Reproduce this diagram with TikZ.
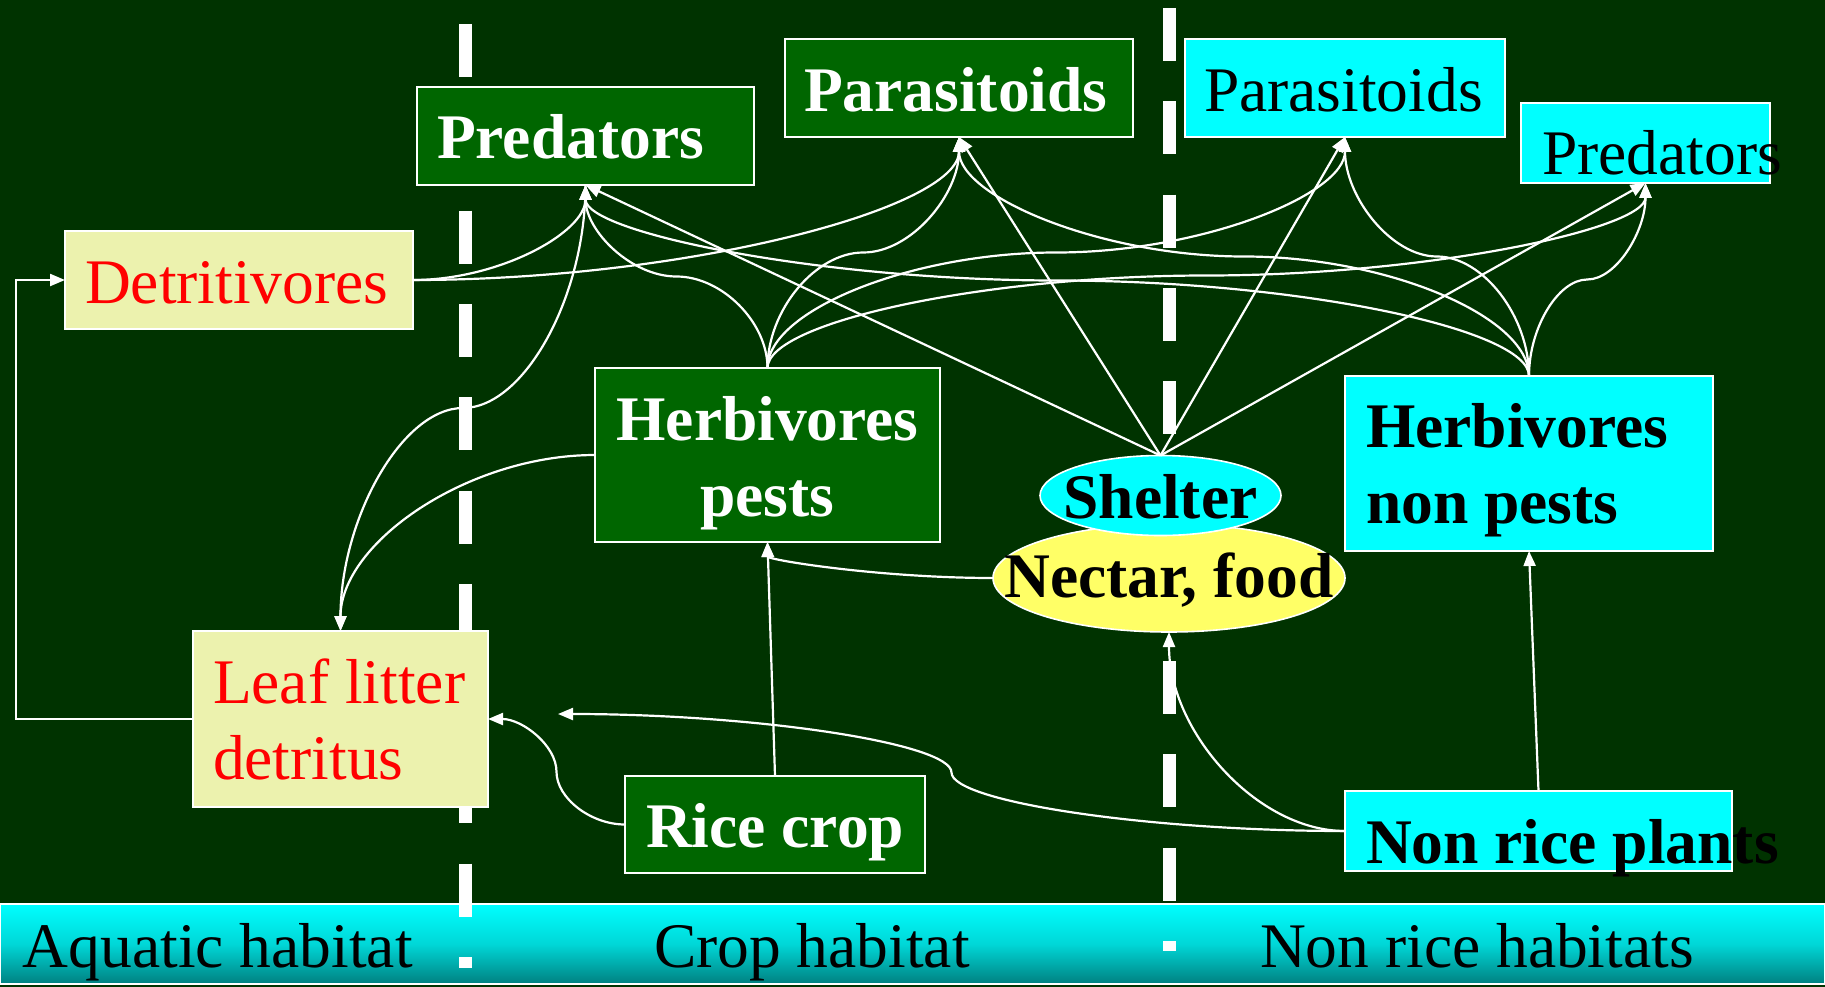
\documentclass[tikz,border=0pt]{standalone}
\usepackage{fontspec}
\setmainfont{Liberation Serif}
\usetikzlibrary{arrows.meta,calc,shapes.geometric}
\definecolor{bgc}{RGB}{0,51,0}
\definecolor{boxgreen}{RGB}{0,102,0}
\definecolor{pale}{RGB}{236,242,174}
\definecolor{nectar}{RGB}{255,255,102}
\definecolor{cyanc}{RGB}{0,255,255}
\definecolor{bandmid}{RGB}{0,215,215}
\definecolor{bandbot}{RGB}{0,128,128}
\newcommand\natsp{\spaceskip=0pt\xspaceskip=0pt\relax}
\begin{document}
\begin{tikzpicture}[x=1pt,y=-1pt,
  every node/.style={inner sep=0pt, outer sep=0pt},
  fnt/.style={font=\fontsize{63.5pt}{76pt}\selectfont},
  bfnt/.style={font=\fontsize{63.5pt}{76pt}\selectfont\bfseries},
  bx/.style={draw=white, line width=1.6pt, rectangle, inner ysep=0pt, text height=70pt},
  boxsz/.style n args={5}{minimum width=#1pt, minimum height=#2pt, inner xsep=#3pt, text width=#4pt, text depth=#5pt},
  gbox/.style={bx, bfnt, fill=boxgreen, text=white},
  cbox/.style={bx, fnt, fill=cyanc, text=black},
  cbbox/.style={bx, bfnt, fill=cyanc, text=black},
  ybox/.style={bx, fnt, fill=pale, text=red},
  oval/.style={ellipse, draw=white, line width=1.6pt, bfnt, text=black},
  divider/.style={draw=white, line width=13pt, dash pattern=on 53pt off 40.3pt},
  conn/.style={draw=white, line width=2.2pt, -{Triangle[length=15pt,width=12pt]}},
  bandtxt/.style={fnt, text=black, anchor=base west}
]
\useasboundingbox (0,0) rectangle (1825,987);
\fill[bgc] (0,0) rectangle (1825,987);

% bottom band
\node[draw=white, line width=1.5pt, top color=cyanc, bottom color=bandbot, middle color=bandmid,
      minimum width=1825pt, minimum height=80pt, anchor=north west] (band) at (0,904) {};

% habitat dividers
\draw[divider] (465,24) -- (465,968);
\draw[divider] (1169,8) -- (1169,951);

% band texts
\node[bandtxt] (aq) at (23,967) {Aquatic habitat};
\node[bandtxt] (cr) at (654,967) {Crop habitat};
\node[bandtxt] (nr) at (1260,967) {Non rice habitats};

% boxes
\node[gbox, align=left, boxsz={337}{98}{20}{297}{24}] (pg) at (585.5,136) {Predators};
\node[gbox, align=left, boxsz={348}{98}{19}{310}{22}] (qg) at (959,88) {Parasitoids};
\node[cbox, align=left, boxsz={320}{98}{19}{282}{22}] (qc) at (1345,88) {Parasitoids};
\node[cbox, align=left, boxsz={249}{80}{21}{207}{6}] (pc) at (1645.5,143) {\mbox{Predators}};
\node[ybox, align=left, boxsz={348}{98}{20}{308}{24}] (dt) at (239,280) {Detritivores};
\node[gbox, align=center, boxsz={345}{174}{10}{325}{100}] (hp) at (767.5,455) {Herbivores\\pests};
\node[cbbox, align=left, boxsz={368}{175}{21}{326}{103}] (hn) at (1529,463.5) {\natsp Herbivores\\\mbox{non pests}};
\node[ybox, align=left, boxsz={295}{176}{20}{255}{102}] (ll) at (340.5,719) {\natsp\mbox{Leaf litter}\\detritus};
\node[gbox, align=left, boxsz={300}{97}{21}{258}{25}] (rc) at (775,824.5) {\natsp\mbox{Rice crop}};
\node[cbbox, align=left, boxsz={387}{80}{21}{345}{6}] (np) at (1538.5,831) {\natsp\mbox{Non rice plants}};

% ellipses
\node[oval, fill=nectar, minimum width=352pt, minimum height=108pt] (nf) at (1169,578)
  {\makebox[0pt]{\raisebox{-19pt}[0pt][0pt]{Nectar, food}}};
\node[oval, fill=cyanc, minimum width=241pt, minimum height=80pt] (sh) at (1160.5,495.5)
  {\makebox[0pt]{\raisebox{-23pt}[0pt][0pt]{Shelter}}};

\coordinate (fe) at (558,714);

% connectors from Detritivores
\draw[conn] (dt.east) .. controls +(86.25,0) and +(0,47.5) .. (pg.south);
\draw[conn] (dt.east) .. controls +(273,0) and +(0,71.5) .. (qg.south);

% to leaf litter
\draw[conn] (pg.south) .. controls +(0,111.5) and +(61.25,0) .. ($(pg.south)!0.5!(ll.north)$)
  .. controls +(-61.25,0) and +(0,-111.5) .. (ll.north);
\draw[conn] (hp.west) .. controls +(-127.25,0) and +(0,-88) .. (ll.north);
\draw[conn] (rc.west) .. controls +(-34.25,0) and +(0,26.375) .. ($(rc.west)!0.5!(ll.east)$)
  .. controls +(0,-26.375) and +(34.25,0) .. (ll.east);
\draw[conn] (ll.west) -- ++(-177,0) |- (dt.west);

% non rice plants
\draw[conn] (np.west) .. controls +(-196.75,0) and +(0,29.25) .. ($(np.west)!0.5!(fe)$)
  .. controls +(0,-29.25) and +(196.75,0) .. (fe);
\draw[conn] (np.west) .. controls +(-88,0) and +(0,99.5) .. (nf.south);
\draw[conn] (np.north) -- (hn.south);

% rice crop and nectar to herbivores pests
\draw[conn] (rc.north) -- (hp.south);
\draw[conn] (nf.west) .. controls +(-112.75,0) and +(0,18) .. (hp.south);

% shelter to natural enemies
\draw[conn] (sh.north) -- (pg.south);
\draw[conn] (sh.north) -- (qg.south);
\draw[conn] (sh.north) -- (qc.south);
\draw[conn] (sh.north) -- (pc.south);

% herbivores pests to natural enemies
\draw[conn] (hp.north) .. controls +(0,-45.75) and +(45.5,0) .. ($(hp.north)!0.5!(pg.south)$)
  .. controls +(-45.5,0) and +(0,45.75) .. (pg.south);
\draw[conn] (hp.north) .. controls +(0,-57.75) and +(-47.875,0) .. ($(hp.north)!0.5!(qg.south)$)
  .. controls +(47.875,0) and +(0,57.75) .. (qg.south);
\draw[conn] (hp.north) .. controls +(0,-57.75) and +(-144.4,0) .. ($(hp.north)!0.5!(qc.south)$)
  .. controls +(144.4,0) and +(0,57.75) .. (qc.south);
\draw[conn] (hp.north) .. controls +(0,-46.25) and +(-219.5,0) .. ($(hp.north)!0.5!(pc.south)$)
  .. controls +(219.5,0) and +(0,46.25) .. (pc.south);

% herbivores non pests to natural enemies
\draw[conn] (hn.north) .. controls +(0,-47.75) and +(235.9,0) .. ($(hn.north)!0.5!(pg.south)$)
  .. controls +(-235.9,0) and +(0,47.75) .. (pg.south);
\draw[conn] (hn.north) .. controls +(0,-59.75) and +(142.5,0) .. ($(hn.north)!0.5!(qg.south)$)
  .. controls +(-142.5,0) and +(0,59.75) .. (qg.south);
\draw[conn] (hn.north) .. controls +(0,-59.75) and +(46,0) .. ($(hn.north)!0.5!(qc.south)$)
  .. controls +(-46,0) and +(0,59.75) .. (qc.south);
\draw[conn] (hn.north) .. controls +(0,-48.25) and +(-29.1,0) .. ($(hn.north)!0.5!(pc.south)$)
  .. controls +(29.1,0) and +(0,48.25) .. (pc.south);
\end{tikzpicture}
\end{document}
